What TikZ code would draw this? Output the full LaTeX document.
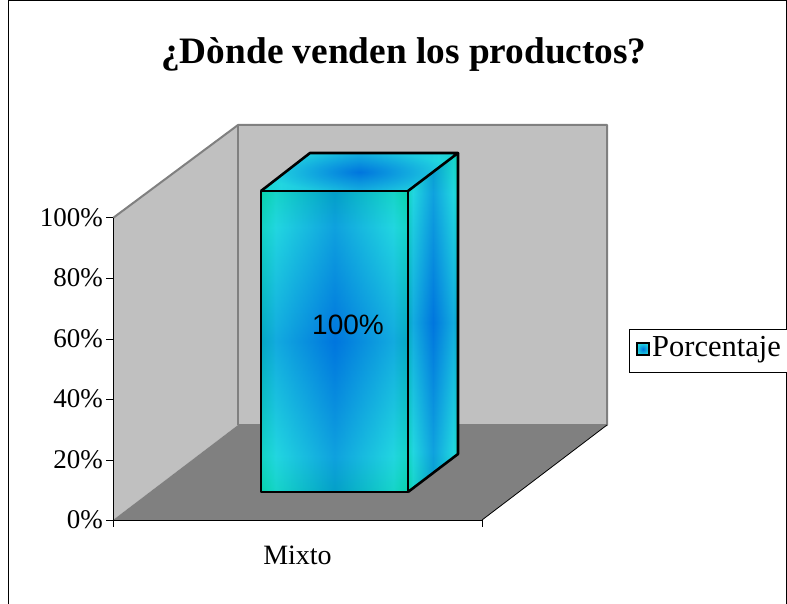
\documentclass[tikz,border=0pt]{standalone}
\usepackage{fontspec}
\setmainfont{Liberation Serif}
\newfontfamily\arialfont{Liberation Sans}
\definecolor{tealc}{RGB}{8,210,172}
\definecolor{cyanc}{RGB}{34,214,224}
\definecolor{bluec}{RGB}{0,118,222}
\definecolor{wallc}{RGB}{192,192,192}
\definecolor{floorc}{RGB}{128,128,128}
\definecolor{edgec}{RGB}{128,128,128}
\pgfdeclarehorizontalshading{barh}{100bp}{color(0bp)=(tealc); color(25bp)=(tealc); color(30bp)=(cyanc); color(50bp)=(bluec); color(70bp)=(cyanc); color(75bp)=(tealc); color(100bp)=(tealc)}
\pgfdeclareverticalshading{barv}{100bp}{color(0bp)=(tealc); color(25bp)=(tealc); color(31bp)=(cyanc); color(50bp)=(bluec); color(69bp)=(cyanc); color(75bp)=(tealc); color(100bp)=(tealc)}
\tikzset{
  lbl/.style={font=\fontsize{27}{27}\selectfont, inner sep=0pt},
  ylbl/.style={lbl, anchor=east},
  axisline/.style={draw=black, line width=1pt},
  wallfill/.style={fill=wallc},
  wedge/.style={draw=edgec, line width=2pt, line join=round},
  barline/.style={draw=black, line width=2.6pt, line join=round},
}
\begin{document}
\begin{tikzpicture}[x=1pt,y=-1pt]
\useasboundingbox (0,0) rectangle (787,604);
\fill[white] (0,0) rectangle (787,604);
% outer frame
\draw[black, line width=1pt] (8,610) -- (8,1) -- (786,1) -- (786,610);
% title
\node[font=\bfseries\fontsize{37.3}{37.3}\selectfont] (title) at (404,55) {¿Dònde venden los productos?};
% coordinates of the chart box
\coordinate (ftl) at (113,218);
\coordinate (fbl) at (113,520);
\coordinate (fbr) at (482,520);
\coordinate (btl) at (238,125);
\coordinate (btr) at (607,125);
\coordinate (bbl) at (238,425);
\coordinate (bbr) at (607,425);
% walls
\fill[wallfill] (ftl) -- (btl) -- (bbl) -- (fbl) -- cycle;
\fill[wallfill] (btl) -- (btr) -- (bbr) -- (bbl) -- cycle;
\fill[floorc] (fbl) -- (bbl) -- (bbr) -- (fbr) -- cycle;
\draw[wedge] (ftl) -- (btl) -- (btr) -- (bbr) -- (bbl);
\draw[wedge] (bbl) -- (btl);
\draw[black, line width=0.8pt] (fbr) -- (bbr);
% axes
\draw[axisline] (ftl) -- (fbl) -- (fbr);
\foreach \y/\t in {520/0\%,460/20\%,399/40\%,339/60\%,278/80\%,218/100\%}{
  \draw[axisline] (106,\y) -- (113,\y);
  \node[ylbl] (y\y) at (103,\y) {\t};
}
\draw[axisline] (fbl) -- (113,527);
\draw[axisline] (fbr) -- (482,527);
\node[lbl, font=\fontsize{28}{28}\selectfont] (mixto) at (297.5,555) {Mixto};
% bar
\coordinate (a1) at (261,191);
\coordinate (a2) at (408,191);
\coordinate (a3) at (408,492);
\coordinate (a4) at (261,492);
\coordinate (b1) at (310,153);
\coordinate (b2) at (458,153);
\coordinate (b3) at (458,454);
% front face
\shade[shading=barh] (a1) -- (a2) -- (a3) -- (a4) -- cycle;
\shade[shading=barv, opacity=0.45] (a1) -- (a2) -- (a3) -- (a4) -- cycle;
% right face
\shade[shading=barh] (a2) -- (b2) -- (b3) -- (a3) -- cycle;
\shade[shading=barv, opacity=0.45] (a2) -- (b2) -- (b3) -- (a3) -- cycle;
% top face
\shade[shading=barh] (a1) -- (b1) -- (b2) -- (a2) -- cycle;
\shade[inner color=bluec, outer color=cyanc, opacity=0.6] (a1) -- (b1) -- (b2) -- (a2) -- cycle;
\draw[barline] (a1) -- (a2) -- (a3) -- (a4) -- cycle;
\draw[barline] (a1) -- (b1) -- (b2) -- (a2);
\draw[barline] (b2) -- (b3) -- (a3);
\node[font=\arialfont\fontsize{28}{28}\selectfont, inner sep=0pt] (val) at (348,325) {100\%};
% legend
\draw[black, line width=1pt, fill=white] (629,329) rectangle (800,372);
\shade[inner color=bluec, outer color=cyanc] (637,343) rectangle (649,355);
\draw[black, line width=1.5pt] (637,343) rectangle (649,355);
\node[lbl, font=\fontsize{30.5}{30.5}\selectfont, anchor=west] (leg) at (652,350) {Porcentaje};
\end{tikzpicture}
\end{document}
